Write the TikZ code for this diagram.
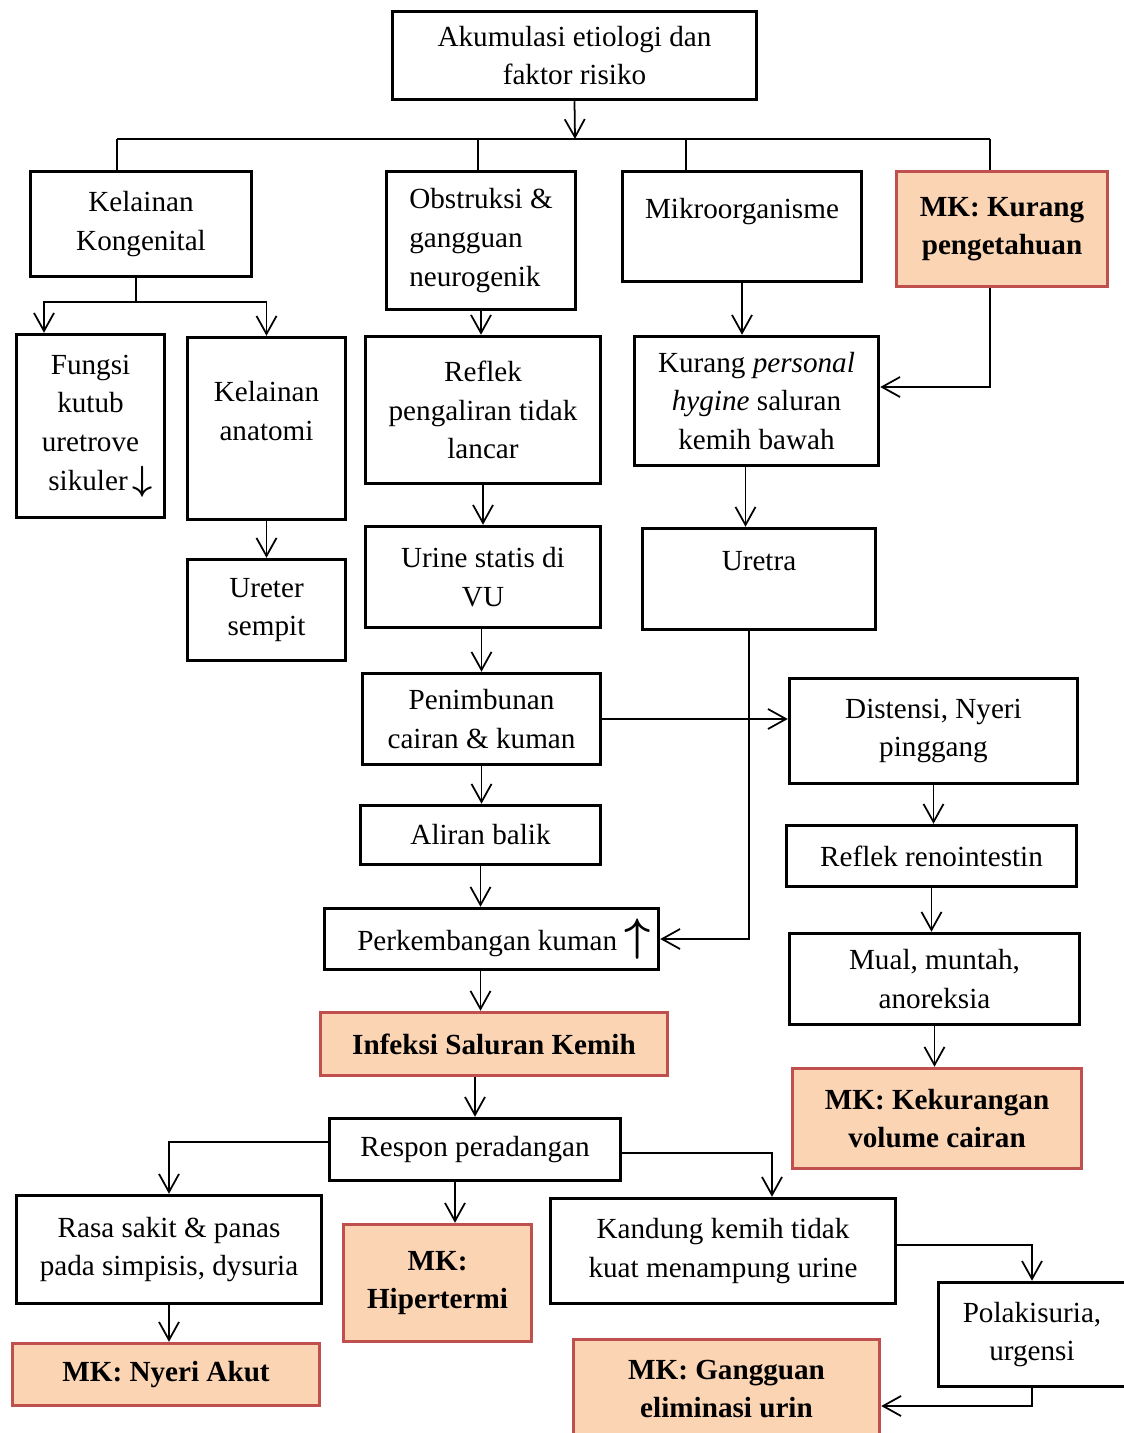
\documentclass[tikz,border=0pt]{standalone}
\usepackage{amsmath}
\usepackage{graphicx}
\usepackage{xcolor}
\usepackage{fontspec}
\setmainfont{Liberation Serif}
\usepackage{tikz}
\usetikzlibrary{shapes.geometric, arrows, arrows.meta}
\definecolor{mkfill}{HTML}{FBD4B4}
\definecolor{mkline}{HTML}{C0504D}
\tikzstyle{box} = [draw, line width=2pt, align=center, inner sep=2pt, font=\fontsize{16.6}{22}\selectfont]
\tikzstyle{mkbox} = [box, draw=mkline, fill=mkfill, font=\fontsize{16.6}{22}\selectfont\bfseries]
\tikzstyle{branch} = [line width=1pt]
\tikzstyle{arrow} = [branch,->,>={Straight Barb[length=3.6mm,width=4mm]}]

\begin{document}
\begin{tikzpicture}[x=0.02cm,y=-0.02cm]
	\useasboundingbox (0,0) rectangle (1124,1433);
	
	% Boxes:
	% Placed at the centre of each box, sizes are given as minimum width/height
	\node [box, minimum width=7.28cm, minimum height=1.76cm] (akumulasi) at (574.5,55.5) {Akumulasi etiologi dan\\faktor risiko};
	
	\node [box, minimum width=4.42cm, minimum height=2.10cm] (kongenital) at (141,224) {Kelainan\\Kongenital};
	\node [box, align=left, minimum width=3.78cm, minimum height=2.76cm] (obstruksi) at (481,240.5) {Obstruksi \&\\gangguan\\neurogenik};
	\node [box, text depth=0.74cm, minimum width=4.78cm, minimum height=2.20cm] (mikro) at (742,226.5) {Mikroorganisme};
	\node [mkbox, minimum width=4.22cm, minimum height=2.30cm] (kurangtahu) at (1002,229) {MK: Kurang\\pengetahuan};
	
	\node [box, minimum width=2.96cm, minimum height=3.66cm] (fungsi) at (90.5,426) {Fungsi\\kutub\\uretrove\\\hspace{0.4cm}sikuler\,\scalebox{1.15}{$\boldsymbol{\downarrow}$}};
	\node [box, minimum width=3.16cm, minimum height=3.64cm] (anatomi) at (266.5,428.5) {Kelainan\\anatomi\\[-2pt]\mbox{}};
	\node [box, minimum width=3.16cm, minimum height=2.02cm] (ureter) at (266.5,610) {Ureter\\sempit};
	
	\node [box, minimum width=4.70cm, minimum height=2.94cm] (reflek) at (483,410) {Reflek\\pengaliran tidak\\lancar};
	\node [box, minimum width=4.70cm, minimum height=2.02cm] (urine) at (483,577) {Urine statis di\\VU};
	\node [box, minimum width=4.76cm, minimum height=1.82cm] (penimbunan) at (481.5,719) {Penimbunan\\cairan \& kuman};
	\node [box, minimum width=4.80cm, minimum height=1.18cm] (aliran) at (480.5,835) {Aliran balik};
	\node [box, minimum width=6.68cm, minimum height=1.22cm] (kuman) at (491.5,939) {\hspace{0.5cm}Perkembangan kuman \scalebox{1.5}{$\boldsymbol{\uparrow}$}};
	
	\node [box, minimum width=4.88cm, minimum height=2.58cm] (higiene) at (756.5,401) {Kurang \textit{personal}\\\textit{hygine} saluran\\kemih bawah};
	\node [box, text depth=0.71cm, minimum width=4.66cm, minimum height=2.02cm] (uretra) at (759,579) {Uretra};
	
	\node [box, minimum width=5.76cm, minimum height=2.10cm] (distensi) at (933.5,731) {Distensi, Nyeri\\pinggang};
	\node [box, minimum width=5.80cm, minimum height=1.22cm] (renointestin) at (931.5,856) {Reflek renointestin};
	\node [box, minimum width=5.80cm, minimum height=1.82cm] (mual) at (934.5,979) {Mual, muntah,\\anoreksia};
	\node [mkbox, minimum width=5.78cm, minimum height=2.00cm] (volume) at (937,1118.5) {MK: Kekurangan\\volume cairan};
	
	\node [mkbox, minimum width=6.94cm, minimum height=1.26cm] (isk) at (494,1044) {Infeksi Saluran Kemih};
	\node [box, minimum width=5.82cm, minimum height=1.24cm] (respon) at (475,1149.5) {Respon peradangan};
	
	\node [box, minimum width=6.10cm, minimum height=2.16cm] (rasasakit) at (169,1249.5) {Rasa sakit \& panas\\pada simpisis, dysuria};
	\node [mkbox, minimum width=6.14cm, minimum height=1.24cm] (nyeri) at (166,1374.5) {MK: Nyeri Akut};
	\node [mkbox, minimum width=3.76cm, minimum height=2.34cm] (hipertermi) at (437.5,1283) {MK:\\Hipertermi};
	\node [box, minimum width=6.90cm, minimum height=2.10cm] (kandung) at (723,1251) {Kandung kemih tidak\\kuat menampung urine};
	\node [box, minimum width=3.74cm, minimum height=2.08cm] (polakisuria) at (1032,1334.5) {Polakisuria,\\urgensi};
	\node [mkbox, minimum width=6.12cm, minimum height=1.98cm] (gangguan) at (726.5,1389) {MK: Gangguan\\eliminasi urin};
	
	% Connectors:
	% The top box splits into four branches along one horizontal line
	\coordinate (split) at (575,139);
	\coordinate (b1) at (117,139);
	\coordinate (b2) at (478,139);
	\coordinate (b3) at (686,139);
	\coordinate (b4) at (990,139);
	\draw [arrow] (akumulasi.south) -- (split);
	\draw [branch] (b1) -- (b4);
	\foreach \b/\n in {b1/kongenital,b2/obstruksi,b3/mikro,b4/kurangtahu}{%
		\draw [branch] (\b) -- (\b |- \n.north);
	}
	
	% Left column
	\coordinate (k1) at (136,302);
	\coordinate (k2) at (44,302);
	\draw [branch] (k1 |- kongenital.south) -- (k1);
	\draw [arrow] (k1) -- (k2) -- (k2 |- fungsi.north);
	\draw [arrow] (k1) -| (anatomi.north);
	\draw [arrow] (anatomi.south) -- (anatomi.south |- ureter.north);
	
	% Middle column
	\draw [arrow] (obstruksi.south) -- (obstruksi.south |- reflek.north);
	\draw [arrow] (reflek.south) -- (reflek.south |- urine.north);
	\draw [arrow] (penimbunan.north |- urine.south) -- (penimbunan.north);
	\draw [arrow] (penimbunan.east) -- (penimbunan.east -| distensi.west);
	\draw [arrow] (penimbunan.south) -- (penimbunan.south |- aliran.north);
	\draw [arrow] (aliran.south) -- (aliran.south |- kuman.north);
	\draw [arrow] (aliran.south |- kuman.south) -- (aliran.south |- isk.north);
	\draw [arrow] (respon.north |- isk.south) -- (respon.north);
	
	% Right column
	\draw [arrow] (mikro.south) -- (mikro.south |- higiene.north);
	\draw [arrow] ([xshift=-0.24cm]kurangtahu.south) |- ([yshift=0.28cm]higiene.east);
	\draw [arrow] ([xshift=-0.22cm]higiene.south) -- ([xshift=-0.22cm]higiene.south |- uretra.north);
	\draw [arrow] ([xshift=-0.2cm]uretra.south) |- (kuman.east);
	\draw [arrow] (distensi.south) -- (distensi.south |- renointestin.north);
	\draw [arrow] (renointestin.south) -- (renointestin.south |- mual.north);
	\draw [arrow] (mual.south) -- (mual.south |- volume.north);
	
	% Below the inflammation response
	\draw [arrow] ([yshift=0.15cm]respon.west) -| (rasasakit.north);
	\draw [arrow] ([yshift=-0.07cm]respon.east) -| ([xshift=0.98cm]kandung.north);
	\draw [arrow] ([xshift=-0.4cm]respon.south) -- ([xshift=-0.4cm]respon.south |- hipertermi.north);
	\draw [arrow] (rasasakit.south) -- (rasasakit.south |- nyeri.north);
	\draw [arrow] ([yshift=0.12cm]kandung.east) -| (polakisuria.north);
	\draw [arrow] (polakisuria.south) |- ([yshift=-0.34cm]gangguan.east);
\end{tikzpicture}
\end{document}
